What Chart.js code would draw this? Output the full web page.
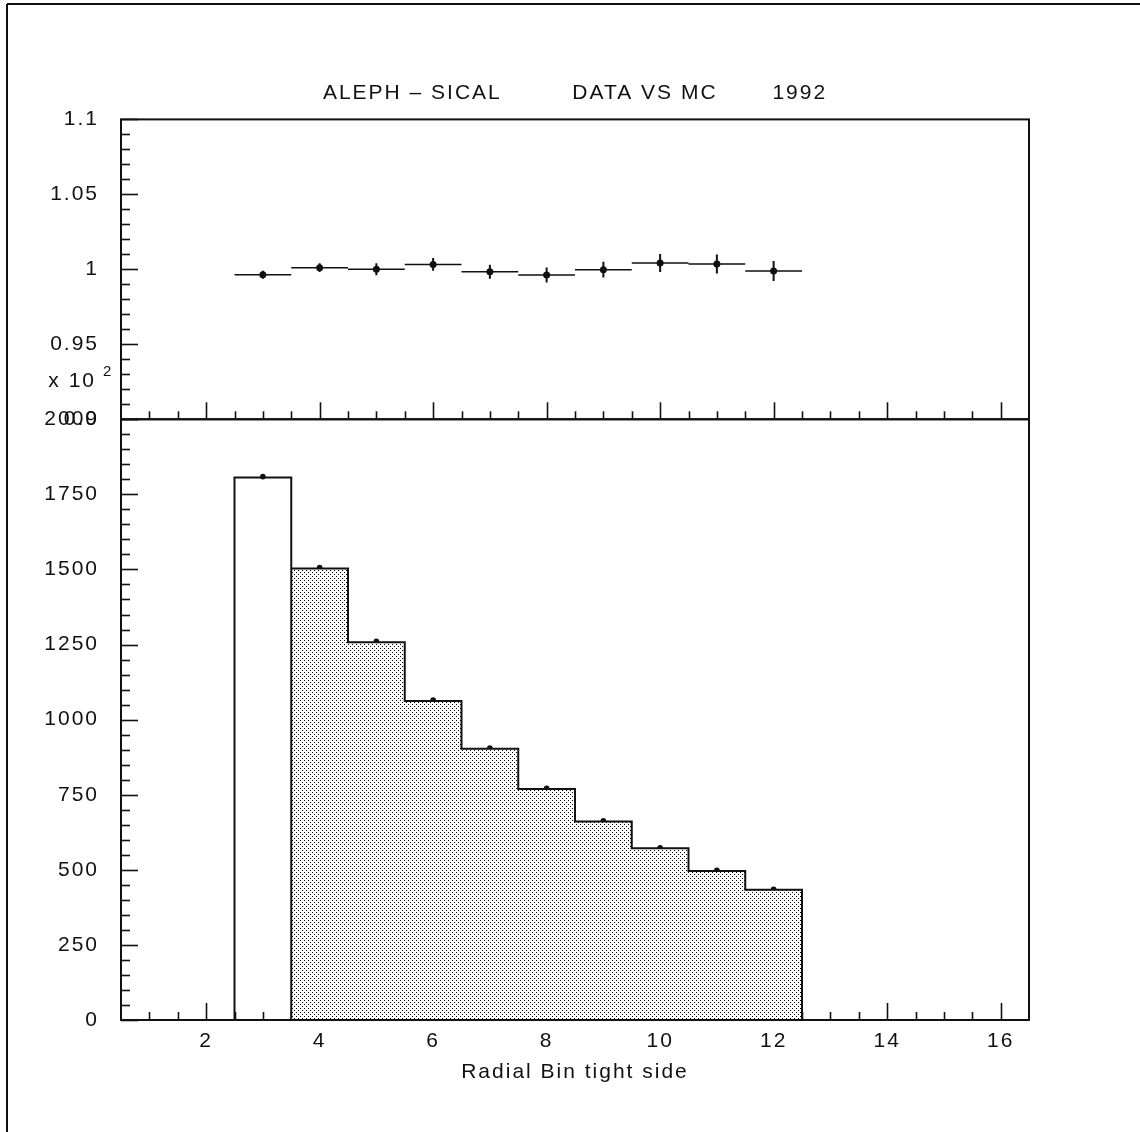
<!DOCTYPE html>
<html>
<head>
<meta charset="utf-8">
<title>ALEPH - SICAL data vs MC 1992</title>
<script src="https://cdn.jsdelivr.net/npm/chart.js@4.4.1/dist/chart.umd.min.js"></script>
<style>
  html, body { margin: 0; padding: 0; background: #fff; }
  #wrap { position: relative; width: 1140px; height: 1132px; }
</style>
</head>
<body>
<div id="wrap"><canvas id="sical" width="1140" height="1132"></canvas></div>
<script>
// radial bins, tight side (bin 3 is drawn open, 4..12 stippled)
var binCenters = [3, 4, 5, 6, 7, 8, 9, 10, 11, 12];
var mcCounts   = [1806, 1503, 1258, 1062, 903, 769, 661, 572, 496, 434];
var dataCounts = [1809, 1506, 1261, 1065, 905, 771, 663, 573, 498, 435];
var ratio      = [0.9964, 1.0011, 1.0000, 1.0033, 0.9984, 0.9962, 0.9998, 1.0042, 1.0036, 0.9989];
var ratioErr   = [0.0027, 0.0029, 0.0040, 0.0043, 0.0047, 0.0050, 0.0053, 0.0060, 0.0063, 0.0067];

var xTicks     = [2, 4, 6, 8, 10, 12, 14, 16];
var ratioTicks = [0.9, 0.95, 1, 1.05, 1.1];
var countTicks = [0, 250, 500, 750, 1000, 1250, 1500, 1750, 2000];

var INK = '#111';
var FONT = '"Liberation Sans", Arial, sans-serif';
Chart.defaults.font.family = FONT;
Chart.defaults.font.size = 21;
Chart.defaults.color = INK;

function stipple() {
	var c = document.createElement('canvas');
	c.width = 4; c.height = 4;
	var g = c.getContext('2d');
	g.fillStyle = '#fff'; g.fillRect(0, 0, 4, 4);
	g.fillStyle = '#000';
	g.fillRect(0, 0, 1, 1);
	g.fillRect(2, 2, 1, 1);
	return g.createPattern(c, 'repeat');
}

// open first bin
var openBin = [
	{x: binCenters[0] - 0.5, y: 0},
	{x: binCenters[0] - 0.5, y: mcCounts[0]},
	{x: binCenters[0] + 0.5, y: mcCounts[0]},
	{x: binCenters[0] + 0.5, y: 0}
];

// stepped outline for the rest of the bins
var stepPts = [];
for (var i = 1; i < binCenters.length; i++) {
	stepPts.push({x: binCenters[i] - 0.5, y: mcCounts[i]});
}
var last = binCenters.length - 1;
stepPts.push({x: binCenters[last] + 0.5, y: mcCounts[last]});
stepPts.push({x: binCenters[last] + 0.5, y: 0});

var countDots = binCenters.map(function (c, k) { return {x: c, y: dataCounts[k]}; });

// ratio: one horizontal segment per bin, one vertical error bar per bin
var ratioBins = [], ratioBars = [];
binCenters.forEach(function (c, k) {
	ratioBins.push({x: c - 0.5, y: ratio[k]}, {x: c + 0.5, y: ratio[k]}, {x: c + 0.5, y: null});
	ratioBars.push({x: c, y: ratio[k] - ratioErr[k]}, {x: c, y: ratio[k] + ratioErr[k]}, {x: c, y: null});
});
var ratioDots = binCenters.map(function (c, k) { return {x: c, y: ratio[k]}; });

function line(ctx, x1, y1, x2, y2) {
	ctx.beginPath();
	ctx.moveTo(x1, y1);
	ctx.lineTo(x2, y2);
	ctx.stroke();
}

var panelFrame = {
	id: 'panelFrame',
	beforeDraw: function (chart) {
		// the old plotter font is spaced wide
		chart.ctx.letterSpacing = '2px';
	},
	beforeDatasetsDraw: function (chart) {
		var ctx = chart.ctx;
		var sx = chart.scales.x, yT = chart.scales.yTop, yB = chart.scales.yBot;
		ctx.save();
		ctx.strokeStyle = INK;
		ctx.lineWidth = 1.6;
		// x ticks, inside, on the bottom edge of both panels
		[yT, yB].forEach(function (ys) {
			for (var v = 1; v <= 16; v += 0.5) {
				var px = Math.round(sx.getPixelForValue(v)) + 0.5;
				line(ctx, px, ys.bottom, px, ys.bottom - (v % 2 === 0 ? 17 : 8));
			}
		});
		// ratio axis: minor every 0.01
		for (var j = 0; j <= 20; j++) {
			var py = Math.round(yT.getPixelForValue(0.9 + j * 0.01)) + 0.5;
			line(ctx, sx.left, py, sx.left + (j % 5 === 0 ? 17 : 9), py);
		}
		// count axis: minor every 50
		for (j = 0; j <= 40; j++) {
			py = Math.round(yB.getPixelForValue(j * 50)) + 0.5;
			line(ctx, sx.left, py, sx.left + (j % 5 === 0 ? 17 : 9), py);
		}
		ctx.restore();
	},
	afterDatasetsDraw: function (chart) {
		var ctx = chart.ctx;
		var a = chart.chartArea, yT = chart.scales.yTop;
		ctx.save();
		ctx.strokeStyle = INK;
		ctx.lineWidth = 2;
		ctx.strokeRect(a.left, a.top, a.right - a.left, yT.bottom - a.top);
		ctx.strokeRect(a.left, yT.bottom, a.right - a.left, a.bottom - yT.bottom);
		// page border
		line(ctx, 7, 4, 7, chart.height);
		line(ctx, 7, 4, chart.width, 4);
		// exponent of the count axis
		ctx.fillStyle = INK;
		ctx.textAlign = 'right';
		ctx.textBaseline = 'alphabetic';
		ctx.font = '21px ' + FONT;
		ctx.fillText('x 10', 96, 387);
		ctx.textAlign = 'left';
		ctx.font = '15px ' + FONT;
		ctx.fillText('2', 103, 376);
		ctx.restore();
	}
};

function plainRatio(v) { return String(+v.toFixed(2)); }
function plain(v) { return String(v); }

new Chart(document.getElementById('sical'), {
	type: 'line',
	data: {
		datasets: [
			{
				data: openBin, yAxisID: 'yBot',
				borderColor: INK, borderWidth: 2, pointRadius: 0, fill: false
			},
			{
				data: stepPts, yAxisID: 'yBot', stepped: 'before',
				borderColor: INK, borderWidth: 2, pointRadius: 0,
				fill: 'origin', backgroundColor: stipple()
			},
			{
				data: countDots, yAxisID: 'yBot', showLine: false,
				pointRadius: 2.8, pointBackgroundColor: INK, pointBorderWidth: 0
			},
			{
				data: ratioBins, yAxisID: 'yTop',
				borderColor: INK, borderWidth: 1.5, pointRadius: 0, fill: false
			},
			{
				data: ratioBars, yAxisID: 'yTop',
				borderColor: INK, borderWidth: 2, pointRadius: 0, fill: false
			},
			{
				data: ratioDots, yAxisID: 'yTop', showLine: false,
				pointRadius: 3.5, pointBackgroundColor: INK, pointBorderWidth: 0
			}
		]
	},
	options: {
		responsive: false,
		animation: false,
		devicePixelRatio: 1,
		layout: { padding: { top: 0, right: 111, bottom: 0, left: 0 } },
		plugins: {
			legend: { display: false },
			tooltip: { enabled: false },
			title: {
				display: true,
				fullSize: false,
				text: 'ALEPH \u2013 SICAL         DATA VS MC       1992',
				color: INK,
				font: { size: 21, weight: 'normal' },
				padding: { top: 80.4, bottom: 13.8 }
			}
		},
		scales: {
			x: {
				type: 'linear', min: 0.5, max: 16.5,
				grid: { display: false, drawTicks: false },
				border: { display: false },
				afterBuildTicks: function (s) { s.ticks = xTicks.map(function (v) { return {value: v}; }); },
				afterFit: function (s) { s.height = 112; },
				ticks: { autoSkip: false, maxRotation: 0, padding: 9, callback: plain },
				title: {
					display: true, text: 'Radial Bin tight side',
					padding: { top: 0, bottom: 47 }
				}
			},
			yBot: {
				type: 'linear', position: 'left', stack: 'panels', stackWeight: 601,
				min: 0, max: 2000,
				grid: { display: false, drawTicks: false },
				border: { display: false },
				afterBuildTicks: function (s) { s.ticks = countTicks.map(function (v) { return {value: v}; }); },
				afterFit: function (s) { s.width = 121; },
				ticks: { autoSkip: false, padding: 22, callback: plain }
			},
			yTop: {
				type: 'linear', position: 'left', stack: 'panels', stackWeight: 300,
				min: 0.9, max: 1.1,
				grid: { display: false, drawTicks: false },
				border: { display: false },
				afterBuildTicks: function (s) { s.ticks = ratioTicks.map(function (v) { return {value: v}; }); },
				afterFit: function (s) { s.width = 121; },
				ticks: { autoSkip: false, padding: 22, callback: plainRatio }
			}
		}
	},
	plugins: [panelFrame]
});
</script>
</body>
</html>
